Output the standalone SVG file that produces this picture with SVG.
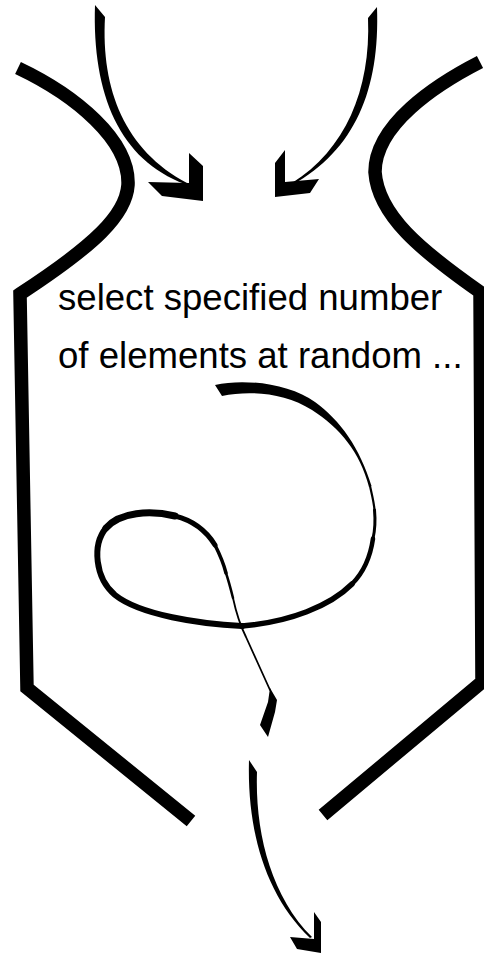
<svg xmlns="http://www.w3.org/2000/svg" width="484" height="956" viewBox="0 0 484 956">
<style>
.frame{fill:none;stroke:#000;stroke-width:13.5;stroke-linejoin:miter;stroke-linecap:butt}
.ink{fill:#000;stroke:none}
.line{fill:none;stroke:#000;stroke-linecap:round;stroke-linejoin:round}
.label{font-family:"Liberation Sans",Arial,sans-serif;font-size:36.6px;fill:#000}
</style>
<rect width="484" height="956" fill="#fff"/>
<g id="node-select">
<path class="frame" d="M18,68 C75,95 130,140 128,185 C126,215 95,245 20,294 L27,688 L191,821"/>
<path class="frame" d="M480,62 C435,85 375,125 375,172 C378,215 420,250 480,292 L482,682 L323,815"/>
<text class="label" x="58" y="310">select specified number</text>
<text class="label" x="58" y="368">of elements at random ...</text>
</g>
<g id="connectors">
<g id="arrow-in-left">
<path class="ink" d="M95,5 L105,17 C101,90 125,150 187,183 L185,184 C120,160 92,95 95,5 Z"/>
<path class="ink" d="M189,153 L203,166 L203,201 L162,196 L148,182 L189,183 Z"/>
</g>
<g id="arrow-in-right">
<path class="ink" d="M377,7 L368,18 C371,90 345,150 292,183 L292,185 C355,150 380,90 377,7 Z"/>
<path class="ink" d="M285,150 L275,163 L275,197 L310,193 L319,179 L285,182 Z"/>
</g>
<g id="arrow-loop">
<path class="ink" d="M215,385 C245,378 290,384 315,402 C340,420 360,448 371.5,486 L369,487 C360,452 340,428 312,410 C285,393 250,390 222,396 Z"/>
<path class="line" stroke-width="2.2" d="M370,486 C372,495 374,502.5 374.5,510"/>
<path class="line" stroke-width="3" d="M374.5,510 C375.5,521 375,530 373,538.6"/>
<path class="line" stroke-width="4.5" d="M373,538.6 C370.5,556 364,572 352,584"/>
<path class="line" stroke-width="5.5" d="M352,584 C330,606 290,622 242,626"/>
<path class="line" stroke-width="6" d="M242,626 C200,624 140,615 115,595 C95,578 92,545 106,528"/>
<path class="line" stroke-width="7" d="M106,528 C120,512 150,510 175,516"/>
<path class="line" stroke-width="5" d="M175,516 C195,521 207,532 215,545"/>
<path class="line" stroke-width="3.5" d="M215,545 C220,555 224,565 226,573"/>
<path class="line" stroke-width="2.5" d="M226,573 C229,582 231,590 233,598"/>
<path class="line" stroke-width="1.8" d="M233,598 C236,612 240,625 246,637 C254,655 262,672 270,690"/>
<path class="ink" d="M270,688 L277,700 L275,712 L268,737 L260,725 L268,702 Z"/>
</g>
<g id="arrow-out">
<path class="ink" d="M249,760 L257,772 C255,830 270,895 312,937 L310,938 C265,895 247,830 249,760 Z"/>
<path class="ink" d="M314,912 L321,922 L321,953 L297,949 L290,937 L314,939 Z"/>
</g>
</g>
</svg>
